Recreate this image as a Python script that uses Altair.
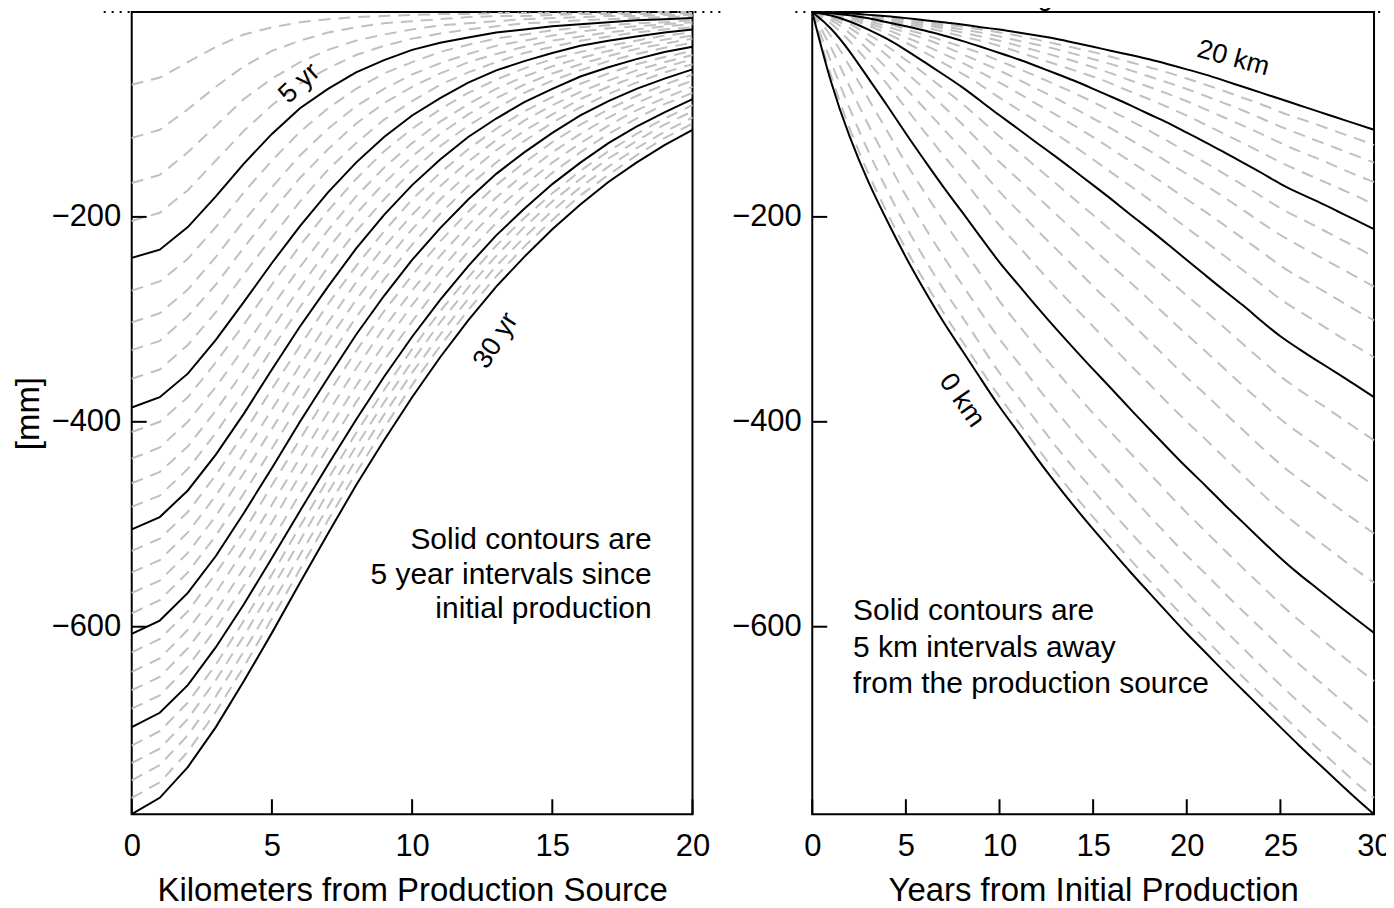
import altair as alt
import pandas as pd

FONT = "Liberation Sans"

# distance from the production source (km) and years since initial production
KM = list(range(0, 21))
YEARS = list(range(1, 31))

# subsidence magnitude (mm) for each year, at km 0..20
YR01 = [71, 64, 49, 34, 22, 15, 10, 7, 5, 4, 3, 2, 2, 1, 1, 1, 1, 1, 1, 0, 0]
YR02 = [123, 115, 95, 73, 53, 38, 28, 20, 15, 11, 9, 7, 5, 4, 4, 3, 2, 2, 2, 2, 1]
YR03 = [167, 159, 137, 111, 85, 65, 49, 37, 28, 22, 17, 13, 11, 9, 7, 6, 5, 4, 4, 3, 3]
YR04 = [204, 196, 174, 145, 116, 91, 70, 55, 42, 33, 26, 21, 17, 14, 11, 10, 8, 7, 6, 5, 4]
YR05 = [240, 232, 210, 180, 148, 119, 94, 75, 59, 47, 37, 30, 25, 20, 17, 14, 12, 10, 8, 7, 6]
YR06 = [272, 263, 241, 210, 176, 145, 117, 94, 75, 60, 49, 39, 32, 26, 22, 18, 15, 13, 11, 10, 8]
YR07 = [303, 294, 271, 239, 204, 171, 140, 114, 92, 75, 61, 50, 41, 33, 28, 23, 19, 16, 14, 12, 10]
YR08 = [330, 321, 297, 266, 230, 195, 162, 134, 109, 89, 73, 60, 49, 41, 34, 28, 24, 20, 17, 14, 12]
YR09 = [358, 349, 325, 293, 256, 220, 185, 154, 128, 105, 87, 71, 59, 49, 40, 34, 28, 24, 20, 17, 15]
YR10 = [386, 376, 353, 320, 283, 245, 209, 176, 147, 122, 101, 84, 69, 57, 48, 40, 33, 28, 24, 20, 17]
YR11 = [410, 400, 376, 342, 305, 266, 228, 194, 163, 136, 114, 95, 79, 66, 55, 46, 39, 33, 28, 23, 20]
YR12 = [436, 425, 400, 366, 328, 288, 249, 213, 180, 152, 128, 107, 90, 75, 63, 53, 45, 38, 32, 27, 23]
YR13 = [460, 449, 424, 389, 350, 309, 269, 231, 197, 167, 141, 119, 100, 84, 71, 60, 51, 43, 36, 31, 26]
YR14 = [483, 472, 446, 411, 371, 329, 288, 249, 214, 183, 155, 131, 111, 94, 79, 67, 57, 48, 41, 35, 30]
YR15 = [505, 493, 467, 432, 392, 349, 307, 268, 231, 198, 169, 144, 122, 104, 88, 75, 63, 54, 46, 39, 34]
YR16 = [526, 514, 488, 452, 411, 368, 326, 285, 248, 214, 183, 157, 134, 114, 97, 83, 70, 60, 51, 44, 38]
YR17 = [547, 535, 508, 472, 431, 388, 345, 303, 264, 229, 198, 170, 146, 125, 106, 91, 78, 67, 57, 49, 42]
YR18 = [567, 555, 528, 492, 450, 407, 363, 321, 281, 245, 212, 183, 158, 135, 116, 100, 85, 73, 63, 54, 46]
YR19 = [587, 574, 547, 511, 470, 426, 382, 339, 298, 261, 227, 197, 170, 147, 126, 108, 93, 80, 69, 59, 51]
YR20 = [607, 594, 567, 531, 489, 445, 400, 357, 315, 277, 242, 211, 183, 158, 137, 118, 101, 87, 75, 65, 56]
YR21 = [625, 612, 585, 548, 507, 462, 417, 373, 331, 292, 257, 224, 195, 169, 147, 127, 110, 95, 82, 71, 61]
YR22 = [644, 631, 603, 567, 525, 481, 435, 391, 348, 308, 272, 238, 208, 181, 158, 137, 119, 103, 89, 77, 67]
YR23 = [662, 649, 621, 585, 543, 498, 452, 408, 365, 324, 286, 252, 221, 193, 169, 147, 128, 111, 96, 84, 73]
YR24 = [680, 667, 639, 602, 560, 516, 470, 425, 381, 340, 302, 266, 234, 206, 180, 157, 137, 119, 104, 90, 79]
YR25 = [698, 684, 657, 620, 578, 533, 487, 442, 398, 356, 317, 281, 248, 218, 192, 168, 147, 128, 112, 98, 85]
YR26 = [716, 702, 674, 637, 594, 549, 502, 456, 411, 369, 329, 292, 259, 228, 201, 177, 155, 136, 119, 104, 91]
YR27 = [733, 719, 690, 652, 609, 563, 516, 469, 424, 381, 341, 303, 269, 238, 210, 185, 163, 143, 126, 110, 97]
YR28 = [750, 735, 706, 668, 624, 578, 530, 483, 437, 393, 352, 315, 280, 248, 220, 194, 171, 151, 133, 117, 103]
YR29 = [767, 752, 722, 683, 639, 592, 544, 496, 450, 406, 364, 326, 291, 258, 229, 203, 179, 159, 140, 123, 109]
YR30 = [783, 767, 737, 698, 653, 606, 557, 509, 462, 418, 376, 337, 301, 268, 239, 212, 188, 166, 147, 130, 115]

ROWS = [YR01, YR02, YR03, YR04, YR05, YR06, YR07, YR08, YR09, YR10,
        YR11, YR12, YR13, YR14, YR15, YR16, YR17, YR18, YR19, YR20,
        YR21, YR22, YR23, YR24, YR25, YR26, YR27, YR28, YR29, YR30]

Y_TICKS = [-600, -400, -200]
X_TICKS_KM = [0, 5, 10, 15, 20]
X_TICKS_YR = [0, 5, 10, 15, 20, 25, 30]

df = pd.DataFrame([dict(km=x, yr=t, depth=-row[j]) for t, row in zip(YEARS, ROWS) for j, x in enumerate(KM)])
dfr = pd.concat([pd.DataFrame(dict(km=KM, yr=0, depth=0.0)), df])

W1, W2, H = 562, 563, 804
yscale = alt.Scale(domain=[-783, 0], nice=False, zero=False)
xs1 = alt.Scale(domain=[0, 20], nice=False, zero=False)
xs2 = alt.Scale(domain=[0, 30], nice=False, zero=False)

ax = dict(labelFont=FONT, titleFont=FONT, labelFontSize=31, titleFontSize=33,
          labelColor="black", titleColor="black", titleFontWeight="normal",
          ticks=False, domain=False, grid=False)

XAX1 = alt.Axis(values=X_TICKS_KM, title="Kilometers from Production Source",
                labelPadding=17, titlePadding=13, labelFlush=False, **ax)
XAX2 = alt.Axis(values=X_TICKS_YR, title="Years from Initial Production",
                labelPadding=17, titlePadding=13, labelFlush=False, **ax)
YAX1 = alt.Axis(values=Y_TICKS, title="[mm]", labelPadding=11, titlePadding=6, **ax)
YAX2 = alt.Axis(values=Y_TICKS, title=None, labelPadding=11, **ax)


def ticks(xs, xax, yax, xvals):
    t1 = alt.Chart(pd.DataFrame({"v": xvals})).mark_rule(color="black", strokeWidth=2).encode(
        x=alt.X("v:Q", scale=xs, axis=xax), y=alt.value(H), y2=alt.value(H - 15))
    t2 = alt.Chart(pd.DataFrame({"v": Y_TICKS})).mark_rule(color="black", strokeWidth=2).encode(
        y=alt.Y("v:Q", scale=yscale, axis=yax), x=alt.value(0), x2=alt.value(15))
    return [t1, t2]


def texts(df_, xs, xax, yax, **kw):
    return alt.Chart(df_).mark_text(font=FONT, color="black", **kw).encode(
        x=alt.X("x:Q", scale=xs, axis=xax), y=alt.Y("y:Q", scale=yscale, axis=yax), text="t:N")


def top_rule(x1, x2, xs, xax, yax):
    return alt.Chart(pd.DataFrame({"x1": [x1], "x2": [x2], "y": [0]})).mark_rule(
        color="black", strokeWidth=2, strokeDash=[2, 6]).encode(
        x=alt.X("x1:Q", scale=xs, axis=xax), x2="x2:Q", y=alt.Y("y:Q", scale=yscale, axis=yax))


# ---- left panel: one curve per year across distance
lb = alt.Chart(df).encode(
    x=alt.X("km:Q", scale=xs1, axis=XAX1),
    y=alt.Y("depth:Q", scale=yscale, axis=YAX1),
    detail="yr:N")
l_dash = lb.mark_line(color="#c0c0c0", strokeWidth=2, strokeDash=[12, 8]).transform_filter("datum.yr % 5 != 0")
l_solid = lb.mark_line(color="black", strokeWidth=2).transform_filter("datum.yr % 5 == 0")
l_ann = texts(pd.DataFrame({"x": [18.54] * 3, "y": [-515, -550, -583],
                            "t": ["Solid contours are", "5 year intervals since", "initial production"]}),
              xs1, XAX1, YAX1, align="right", baseline="middle", fontSize=30)
l_lab1 = texts(pd.DataFrame({"x": [5.98], "y": [-69.6], "t": ["5 yr"]}), xs1, XAX1, YAX1, angle=317, fontSize=27)
l_lab2 = texts(pd.DataFrame({"x": [12.99], "y": [-320.7], "t": ["30 yr"]}), xs1, XAX1, YAX1, angle=302, fontSize=27)
left = alt.layer(l_dash, l_solid, *ticks(xs1, XAX1, YAX1, X_TICKS_KM),
                 top_rule(-1.0, 21.0, xs1, XAX1, YAX1), l_ann, l_lab1, l_lab2).properties(width=W1, height=H)

# ---- right panel: one curve per km across time
rb = alt.Chart(dfr).encode(
    x=alt.X("yr:Q", scale=xs2, axis=XAX2),
    y=alt.Y("depth:Q", scale=yscale, axis=YAX2),
    detail="km:N", order="yr:Q")
r_dash = rb.mark_line(color="#c0c0c0", strokeWidth=2, strokeDash=[12, 8],
                      interpolate="basis").transform_filter("datum.km % 5 != 0")
r_solid = rb.mark_line(color="black", strokeWidth=2, interpolate="basis").transform_filter("datum.km % 5 == 0")
r_ann = texts(pd.DataFrame({"x": [2.18] * 3, "y": [-584.4, -620.4, -655.5],
                            "t": ["Solid contours are", "5 km intervals away", "from the production source"]}),
              xs2, XAX2, YAX2, align="left", baseline="middle", fontSize=30)
r_lab1 = texts(pd.DataFrame({"x": [22.48], "y": [-45.3], "t": ["20 km"]}), xs2, XAX2, YAX2, angle=15, fontSize=27)
r_lab2 = texts(pd.DataFrame({"x": [7.99], "y": [-379], "t": ["0 km"]}), xs2, XAX2, YAX2, angle=55, fontSize=27)
r_surf = texts(pd.DataFrame({"x": [15.1], "y": [0], "t": ["initial ground surface"]}), xs2, XAX2, YAX2,
               align="center", baseline="bottom", dy=-1, fontSize=27, fontStyle="italic")
right = alt.layer(r_dash, r_solid, *ticks(xs2, XAX2, YAX2, X_TICKS_YR),
                  top_rule(-0.9, 30.4, xs2, XAX2, YAX2), r_ann, r_lab1, r_lab2, r_surf).properties(width=W2, height=H)

chart = alt.hconcat(left, right, spacing=120, bounds="flush").configure_view(
    stroke="black", strokeWidth=2).properties(
    padding={"left": 3, "top": -27, "right": -7, "bottom": 0}, background="white")

chart.save("out.html", embed_options={"renderer": "svg", "actions": False})
